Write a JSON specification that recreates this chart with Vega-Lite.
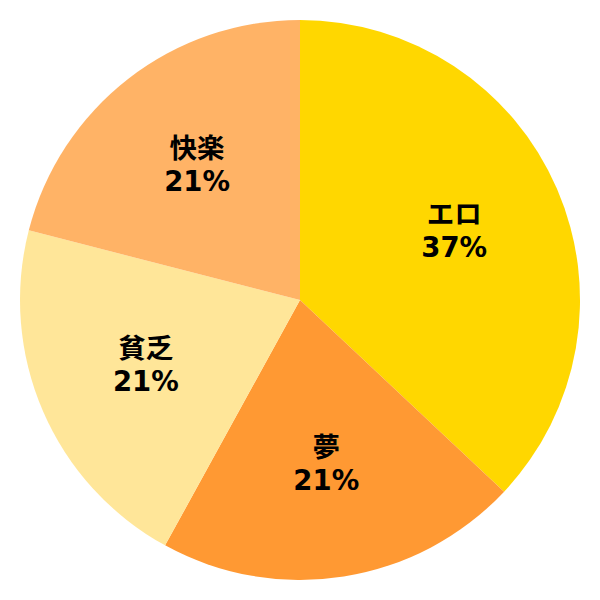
{
  "$schema": "https://vega.github.io/schema/vega-lite/v6.json",
  "width": 600,
  "height": 600,
  "autosize": {"type": "fit", "contains": "padding"},
  "padding": 0,
  "background": "white",
  "data": {
    "values": [
      {"name": "エロ", "pct": 37, "label": "エロ\n37%", "order": 1},
      {"name": "夢", "pct": 21, "label": "夢\n21%", "order": 2},
      {"name": "貧乏", "pct": 21, "label": "貧乏\n21%", "order": 3},
      {"name": "快楽", "pct": 21, "label": "快楽\n21%", "order": 4}
    ]
  },
  "encoding": {
    "theta": {"field": "pct", "type": "quantitative", "stack": true},
    "order": {"field": "order", "type": "quantitative"}
  },
  "layer": [
    {
      "mark": {"type": "arc", "outerRadius": 280},
      "encoding": {
        "color": {
          "field": "name",
          "type": "nominal",
          "scale": {"domain": ["エロ", "夢", "貧乏", "快楽"], "range": ["#FFD700", "#FF9933", "#FFE699", "#FFB366"]},
          "legend": null
        }
      }
    },
    {
      "mark": {
        "type": "text",
        "radius": 168,
        "dy": -17,
        "fontSize": 27.5,
        "fontWeight": "bold",
        "font": "DejaVu Sans, Noto Sans CJK JP",
        "lineBreak": "\n",
        "lineHeight": 33,
        "align": "center",
        "baseline": "middle",
        "color": "black"
      },
      "encoding": {"text": {"field": "label"}}
    }
  ]
}
